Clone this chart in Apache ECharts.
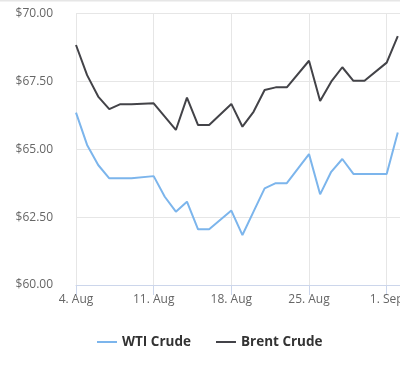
<!DOCTYPE html>
<html>
<head>
<meta charset="utf-8">
<script src="https://cdn.jsdelivr.net/npm/echarts@6/dist/echarts.min.js"></script>
<style>
html,body{margin:0;padding:0;background:#fff;}
#c{width:400px;height:373px;}
</style>
</head>
<body>
<div id="c"></div>
<script>
const dates = ['2025-08-04','2025-08-05','2025-08-06','2025-08-07','2025-08-08','2025-08-09',
  '2025-08-11','2025-08-12','2025-08-13','2025-08-14','2025-08-15','2025-08-16',
  '2025-08-18','2025-08-19','2025-08-20','2025-08-21','2025-08-22','2025-08-23',
  '2025-08-25','2025-08-26','2025-08-27','2025-08-28','2025-08-29','2025-08-30',
  '2025-09-01','2025-09-02'];
const wti = [66.35,65.16,64.42,63.93,63.93,63.93,
  64.01,63.25,62.70,63.07,62.05,62.05,
  62.74,61.84,62.70,63.56,63.75,63.75,
  64.82,63.34,64.17,64.64,64.09,64.09,
  64.09,65.62];
const brent = [68.84,67.73,66.94,66.48,66.66,66.66,
  66.69,66.20,65.71,66.90,65.89,65.89,
  66.67,65.83,66.38,67.18,67.28,67.28,
  68.26,66.78,67.49,68.02,67.52,67.52,
  68.19,69.17];
const seriesNames = ['WTI Crude','Brent Crude'];
const yTicks = [60, 62.5, 65, 67.5, 70];
const months = ['Jan','Feb','Mar','Apr','May','Jun','Jul','Aug','Sep','Oct','Nov','Dec'];

const DAY = 86400000;
const start = Date.UTC(2025,7,4);
function dayOf(s){ const p = s.split('-'); return Math.round((Date.UTC(+p[0], +p[1]-1, +p[2]) - start)/DAY); }
function labelOf(d){ const t = new Date(start + d*DAY); return t.getUTCDate() + '. ' + months[t.getUTCMonth()]; }

const font = "'Open Sans', 'Noto Sans', sans-serif";
const pxPerDay = 11.096;
const xMax = 35;

const chart = echarts.init(document.getElementById('c'), null, {renderer:'canvas'});
chart.setOption({
  animation: false,
  color: ['#7cb5ec', '#434348'],
  textStyle: {fontFamily: font},
  graphic: [{type:'rect', shape:{x:0,y:0,width:400,height:1.5}, style:{fill:'#e6e6e6'}, silent:true}],
  grid: {left: 76, top: 13.5, height: 271.5, width: xMax*pxPerDay, outerBoundsMode: 'none', containLabel: false},
  legend: {
    left: 97, top: 335, padding: 0,
    itemWidth: 20, itemHeight: 2, itemGap: 25,
    icon: 'rect',
    textStyle: {fontFamily: font, fontSize: 13.5, fontWeight: 'bold', color: '#333'},
    data: seriesNames
  },
  xAxis: {
    type: 'value', min: 0, max: xMax, interval: 7,
    axisLine: {show: true, lineStyle: {color: '#ccd6eb', width: 1}},
    axisTick: {show: true, length: 10, lineStyle: {color: '#ccd6eb'}},
    splitLine: {show: true, lineStyle: {color: '#e6e6e6', width: 1}},
    axisLabel: {
      margin: 9, color: '#666', fontSize: 12, fontFamily: font,
      formatter: v => labelOf(v)
    }
  },
  yAxis: {
    type: 'value', min: yTicks[0], max: yTicks[yTicks.length-1], interval: 2.5,
    axisLine: {show: false}, axisTick: {show: false},
    splitLine: {show: true, lineStyle: {color: '#e6e6e6', width: 1}},
    axisLabel: {
      margin: 23, color: '#666', fontSize: 12, fontFamily: font,
      formatter: v => '$' + v.toFixed(2)
    }
  },
  series: [
    {name: seriesNames[0], type: 'line', symbol: 'none', lineStyle: {width: 2},
     data: dates.map((d,i) => [dayOf(d), wti[i]])},
    {name: seriesNames[1], type: 'line', symbol: 'none', lineStyle: {width: 2},
     data: dates.map((d,i) => [dayOf(d), brent[i]])}
  ]
});
</script>
</body>
</html>
